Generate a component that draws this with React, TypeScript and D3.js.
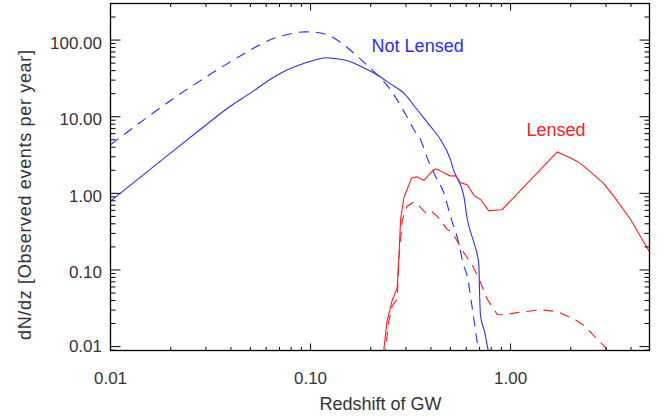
import React from 'react';
import * as d3 from 'd3';

type Pt = [number, number];

// Not lensed, observed (solid) and intrinsic (dashed)
const notLensedSolid: Pt[] = [
  [0.01, 0.79], [0.02, 3.37], [0.03, 7.8], [0.038, 12.6], [0.05, 20.3], [0.063, 30.8],
  [0.0708, 36.9], [0.0929, 49.8], [0.105, 55], [0.119, 58.9], [0.135, 57], [0.153, 53.8],
  [0.18, 45], [0.216, 35], [0.25, 27], [0.293, 20.3], [0.34, 12.5], [0.398, 7.46],
  [0.447, 5.0], [0.501, 2.75], [0.521, 1.95], [0.541, 1.59], [0.584, 0.92], [0.607, 0.47],
  [0.656, 0.227], [0.681, 0.16], [0.695, 0.113], [0.70, 0.05], [0.708, 0.0252],
  [0.74, 0.016], [0.765, 0.0103], [0.79, 0.007],
];
const notLensedDashed: Pt[] = [
  [0.01, 4.31], [0.0239, 22.4], [0.0412, 55], [0.055, 85], [0.063, 101], [0.0708, 112],
  [0.08, 121], [0.0929, 128], [0.105, 127], [0.122, 116], [0.14, 95], [0.165, 67],
  [0.19, 48], [0.216, 35], [0.243, 25], [0.271, 16.6], [0.3, 10.5], [0.329, 6.76],
  [0.355, 5.0], [0.383, 2.9], [0.42, 1.7], [0.464, 1.01], [0.501, 0.5], [0.545, 0.25],
  [0.584, 0.113], [0.607, 0.0836], [0.64, 0.035], [0.681, 0.0114], [0.70, 0.007],
];

// Lensed, observed (solid) and intrinsic (dashed)
const lensedSolid: Pt[] = [
  [0.23, 0.007], [0.241, 0.021], [0.256, 0.04], [0.271, 0.058], [0.277, 0.16],
  [0.282, 0.46], [0.293, 0.88], [0.304, 1.12], [0.32, 1.59], [0.341, 1.64], [0.355, 1.55],
  [0.369, 1.48], [0.391, 1.76], [0.414, 2.04], [0.43, 2.08], [0.464, 1.85], [0.501, 1.68],
  [0.531, 1.70], [0.562, 1.37], [0.607, 1.30], [0.656, 0.94], [0.708, 0.83], [0.779, 0.59],
  [0.891, 0.61], [0.909, 0.616], [1.712, 3.47], [2.0, 2.9], [2.15, 2.61], [2.33, 2.25],
  [2.9, 1.37], [3.28, 0.92], [3.98, 0.456], [4.92, 0.177], [5.0, 0.165],
];
const lensedDashed: Pt[] = [
  [0.235, 0.007], [0.245, 0.02], [0.256, 0.034], [0.271, 0.0416], [0.277, 0.152],
  [0.288, 0.456], [0.304, 0.68], [0.329, 0.775], [0.35, 0.68], [0.376, 0.557],
  [0.398, 0.60], [0.43, 0.5], [0.482, 0.338], [0.51, 0.312], [0.584, 0.168], [0.65, 0.11],
  [0.708, 0.0686], [0.765, 0.0416], [0.858, 0.0262], [0.926, 0.026], [1.1, 0.028],
  [1.41, 0.0302], [1.71, 0.0287], [2.15, 0.0217], [2.33, 0.0187], [2.98, 0.0098], [3.1, 0.008],
];

const xMajor = [0.01, 0.1, 1];
const yMajor = [0.01, 0.1, 1, 10, 100];

const BLUE = '#2b2bff';
const RED = '#ff1c1c';
const TXT = '#333';
const FONT = '"Liberation Sans", Arial, Helvetica, sans-serif';

const W = 672, H = 419;
const L = 110.5, R = 649.5, T = 3.5, B = 350.5;

export default function App() {
  const x = d3.scaleLog().domain([0.01, 4.95]).range([L, R]);
  const y = d3.scaleLog().domain([0.0089, 300]).range([B, T]);
  const line = d3.line<Pt>().x(d => x(d[0])).y(d => y(d[1]));
  // the unlensed curves are smooth in the original, so round off the corners
  const smooth = d3.line<Pt>().x(d => x(d[0])).y(d => y(d[1])).curve(d3.curveMonotoneX);

  const isMajor = (v: number) => Math.abs(Math.log10(v) - Math.round(Math.log10(v))) < 1e-6;
  const xt = x.ticks();
  const yt = y.ticks();

  return (
    <svg width={W} height={H} style={{ position: 'fixed', left: 0, top: 0, background: '#fff' }}
      fontFamily={FONT}>
      <defs>
        <clipPath id="plot"><rect x={L} y={T} width={R - L} height={B - T} /></clipPath>
      </defs>

      {/* curves */}
      <g clipPath="url(#plot)" fill="none" strokeWidth={1.1}>
        <path d={smooth(notLensedDashed)!} stroke={BLUE} strokeDasharray="10,7" />
        <path d={smooth(notLensedSolid)!} stroke={BLUE} />
        <path d={line(lensedDashed)!} stroke={RED} strokeDasharray="10,7" />
        <path d={line(lensedSolid)!} stroke={RED} />
      </g>

      {/* frame + ticks */}
      <rect x={L} y={T} width={R - L} height={B - T} fill="none" stroke="#000" strokeWidth={1.3} />
      <g stroke="#000" strokeWidth={1}>
        {xt.map((v, i) => {
          const len = isMajor(v) ? 7 : 3.5;
          return (
            <g key={'x' + i}>
              <line x1={x(v)} x2={x(v)} y1={B} y2={B - len} />
              <line x1={x(v)} x2={x(v)} y1={T} y2={T + len} />
            </g>
          );
        })}
        {yt.map((v, i) => {
          const len = isMajor(v) ? 10 : 5;
          return (
            <g key={'y' + i}>
              <line x1={L} x2={L + len} y1={y(v)} y2={y(v)} />
              <line x1={R} x2={R - len} y1={y(v)} y2={y(v)} />
            </g>
          );
        })}
      </g>

      {/* tick labels */}
      <g fill={TXT} fontSize={17}>
        {xMajor.map(v => (
          <text key={v} x={x(v)} y={383.5} textAnchor="middle">{v.toFixed(2)}</text>
        ))}
        {yMajor.map(v => (
          <text key={v} x={102} y={Math.min(y(v) + 8.5, B + 1)} textAnchor="end">{v.toFixed(2)}</text>
        ))}
      </g>

      {/* axis titles */}
      <text x={(L + R) / 2 + 0.5} y={410} textAnchor="middle" fontSize={18} fill={TXT}>Redshift of GW</text>
      <text transform={`translate(31,195) rotate(-90)`} textAnchor="middle" fontSize={18}
        fill={TXT} textLength={290} lengthAdjust="spacing">dN/dz [Observed events per year]</text>

      {/* curve labels */}
      <text x={x(0.202)} y={y(70.7)} fontSize={18} fill={BLUE}>Not Lensed</text>
      <text x={x(1.202)} y={y(5.53)} fontSize={18} fill={RED}>Lensed</text>
    </svg>
  );
}
